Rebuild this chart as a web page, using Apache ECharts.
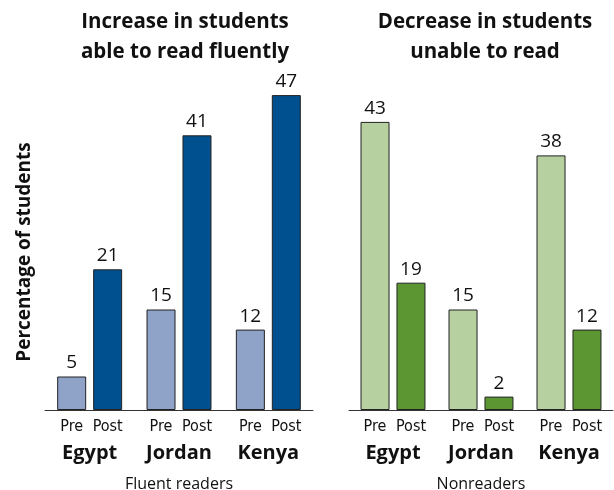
<!DOCTYPE html>
<html><head><meta charset="utf-8">
<script src="https://cdn.jsdelivr.net/npm/echarts@6/dist/echarts.min.js"></script>
<style>html,body{margin:0;padding:0;background:#fff}#c{width:614px;height:490px}</style>
</head><body><div id="c"></div>
<script>
const countries = ['Egypt', 'Jordan', 'Kenya'];
const fluentPre = [5, 15, 12];
const fluentPost = [21, 41, 47];
const nonPre = [43, 15, 38];
const nonPost = [19, 2, 12];
const panelTitles = ['Increase in students\nable to read fluently', 'Decrease in students\nunable to read'];
const panelNames = ['Fluent readers', 'Nonreaders'];
const yName = 'Percentage of students';

const F = "'Open Sans', 'Noto Sans', sans-serif";
const FC = "'Liberation Sans Narrow', 'DejaVu Sans Condensed', 'Open Sans', sans-serif";

function xAxisFor(idx) {
  return {
    type: 'category', gridIndex: idx, data: countries,
    axisLine: {lineStyle: {color: '#333', width: 1}},
    axisTick: {show: false},
    name: panelNames[idx], nameLocation: 'middle', nameGap: 66,
    nameTextStyle: {fontFamily: F, fontSize: 16, color: '#111'},
    axisLabel: {
      margin: 7, interval: 0,
      formatter: v => '{p|Pre}{q|Post}\n{c|' + v + '}',
      rich: {
        p: {fontFamily: FC, fontSize: 16, color: '#111', width: 36, align: 'center', lineHeight: 20},
        q: {fontFamily: FC, fontSize: 16, color: '#111', width: 36, align: 'center', lineHeight: 20},
        c: {fontFamily: F, fontSize: 20, fontWeight: 'bold', color: '#111', width: 72, align: 'center', lineHeight: 33}
      }
    }
  };
}
function yAxisFor(idx) {
  return {
    type: 'value', gridIndex: idx, min: 0, max: 50,
    show: true, axisLine: {show: false}, axisTick: {show: false}, axisLabel: {show: false}, splitLine: {show: false}
  };
}
function bar(idx, data, color) {
  return {
    type: 'bar', xAxisIndex: idx, yAxisIndex: idx, data: data,
    barWidth: 29, barGap: '24%',
    itemStyle: {color: color, borderColor: '#222', borderWidth: 1},
    label: {show: true, position: 'top', distance: 4, fontFamily: F, fontSize: 19, color: '#111'}
  };
}
const chart = echarts.init(document.getElementById('c'), null, {renderer: 'canvas'});
chart.setOption({
  animation: false,
  title: [
    {text: panelTitles[0], left: 180, top: 2, textAlign: 'center',
     textStyle: {fontFamily: F, fontSize: 20.5, fontWeight: 'bold', color: '#111', lineHeight: 30}},
    {text: panelTitles[1], left: 480, top: 2, textAlign: 'center',
     textStyle: {fontFamily: F, fontSize: 20.5, fontWeight: 'bold', color: '#111', lineHeight: 30}}
  ],
  graphic: [{
    type: 'text', x: 25, y: 252, rotation: Math.PI / 2,
    style: {text: yName, fontFamily: F, fontSize: 19, fontWeight: 'bold', fill: '#111',
            align: 'center', verticalAlign: 'middle'}
  }],
  grid: [
    {left: 45, width: 268, top: 75, height: 335, outerBoundsMode: 'none', containLabel: false},
    {left: 349, width: 264, top: 75, height: 335, outerBoundsMode: 'none', containLabel: false}
  ],
  xAxis: [xAxisFor(0), xAxisFor(1)],
  yAxis: [yAxisFor(0), yAxisFor(1)],
  series: [
    bar(0, fluentPre, '#8fa3c9'),
    bar(0, fluentPost, '#00508f'),
    bar(1, nonPre, '#b6d0a0'),
    bar(1, nonPost, '#5b9632')
  ]
});
</script></body></html>
